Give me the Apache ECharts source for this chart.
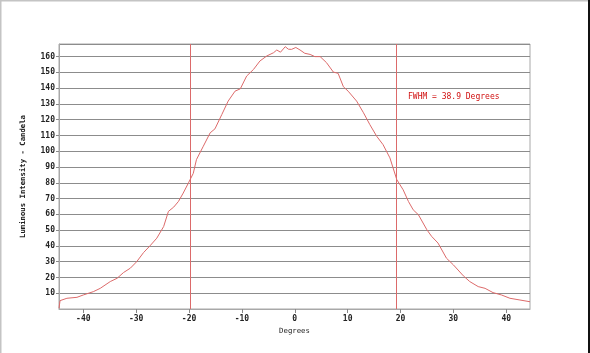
<!DOCTYPE html>
<html>
<head>
<meta charset="utf-8">
<script src="https://cdn.jsdelivr.net/npm/echarts@6/dist/echarts.min.js"></script>
<style>
  html, body { margin: 0; padding: 0; background: #fff; }
  #chart { width: 590px; height: 353px; }
</style>
</head>
<body>
<div id="chart"></div>
<script>
// angle (degrees) and intensity (candela)
const degrees = [-44.6, -44.4, -43.1, -41.2, -40.0, -38.1, -36.8, -34.9, -33.6, -32.4, -31.1, -29.9,
  -28.6, -27.4, -26.1, -24.8, -23.9, -22.9, -22.0, -21.1, -20.1, -19.2, -18.6, -17.3, -16.0, -15.1,
  -13.8, -12.6, -11.3, -10.3, -9.1, -7.8, -6.6, -5.3, -4.0, -3.4, -2.7, -1.8, -1.2, -0.6, 0.2, 1.0,
  1.9, 2.9, 3.8, 4.8, 6.0, 7.3, 8.2, 9.2, 10.1, 11.7, 13.0, 14.2, 15.5, 16.7, 18.0, 19.3, 20.5, 21.5,
  22.4, 23.4, 25.0, 25.9, 27.1, 28.7, 30.0, 31.9, 33.1, 34.7, 36.0, 37.5, 39.1, 40.7, 42.6, 44.5];
const intensity = [0.5, 5.3, 6.8, 7.4, 8.9, 11, 13.1, 17.4, 19.5, 23.1, 25.9, 30,
  35.8, 40, 44.9, 52.3, 61.9, 64.6, 68.2, 73.5, 80, 86, 94.7, 103.2, 111.7, 114.2,
  123.3, 131.8, 138.1, 139.6, 147.7, 151.9, 157.2, 160.4, 162.5, 164.2, 162.8, 166.3, 164.7, 164.6, 165.8, 164.2,
  162.1, 161.4, 160, 160, 156.2, 150.2, 149.4, 140.9, 138.1, 131.8, 124.4, 116.9, 109.5, 104.2, 95.8, 82, 75.6, 68.2,
  62.9, 59.7, 50.2, 46, 41.8, 32.2, 28, 21, 17.4, 14.2, 13.1, 10.4, 8.9, 6.8, 5.7, 4.6];
const xTicks = [-40, -30, -20, -10, 0, 10, 20, 30, 40];
const halfMaxEdges = [-19.7, 19.25];
const fwhmText = 'FWHM = 38.9 Degrees';

const lineRed = '#dc6a6a';
const gridGray = '#8c8c8c';
const labelFont = { fontFamily: 'DejaVu Sans Mono', fontSize: 8, fontWeight: 'bold', color: '#222' };
const nameFont = { fontFamily: 'DejaVu Sans Mono', fontSize: 7.3, color: '#222' };

const chart = echarts.init(document.getElementById('chart'));
chart.setOption({
  animation: false,
  grid: {
    left: 59, right: 60, top: 44, bottom: 44,
    show: true, borderColor: '#a8a8a8', borderWidth: 1
  },
  xAxis: {
    type: 'value',
    min: -44.6,
    max: 44.5,
    name: 'Degrees',
    nameLocation: 'middle',
    nameGap: 19,
    nameTextStyle: nameFont,
    axisLine: { onZero: false, lineStyle: { color: '#a8a8a8' } },
    axisTick: { customValues: xTicks, length: 4, lineStyle: { color: '#888' } },
    axisLabel: Object.assign({ customValues: xTicks, margin: 6 }, labelFont),
    splitLine: { show: false }
  },
  yAxis: {
    type: 'value',
    min: 0,
    max: 168,
    interval: 10,
    name: 'Luminous Intensity - Candela',
    nameLocation: 'middle',
    nameGap: 32,
    nameTextStyle: Object.assign({}, nameFont, { fontWeight: 'bold' }),
    axisLine: { show: true, onZero: false, lineStyle: { color: '#a8a8a8' } },
    axisTick: { show: true, length: 3, lineStyle: { color: '#888' } },
    axisLabel: Object.assign({ margin: 4, showMinLabel: false, showMaxLabel: false }, labelFont),
    splitLine: { lineStyle: { color: gridGray, width: 1 } }
  },
  series: [{
    type: 'line',
    data: degrees.map((d, i) => [d, intensity[i]]),
    symbol: 'none',
    lineStyle: { color: lineRed, width: 1 },
    markLine: {
      silent: true,
      symbol: 'none',
      label: { show: false },
      lineStyle: { color: lineRed, width: 1, type: 'solid' },
      data: halfMaxEdges.map(v => ({ xAxis: v }))
    }
  }],
  graphic: [
    { type: 'text', left: 408, top: 93,
      style: { text: fwhmText, fontFamily: 'DejaVu Sans Mono', fontSize: 8, fill: '#d01010' } },
    { type: 'rect', shape: { x: 0, y: 0, width: 590, height: 1.5 }, style: { fill: '#c4c4c4' } },
    { type: 'rect', shape: { x: 0, y: 0, width: 1.5, height: 353 }, style: { fill: '#c4c4c4' } },
    { type: 'rect', shape: { x: 588, y: 0, width: 2, height: 353 }, style: { fill: '#111' } }
  ]
});
</script>
</body>
</html>
